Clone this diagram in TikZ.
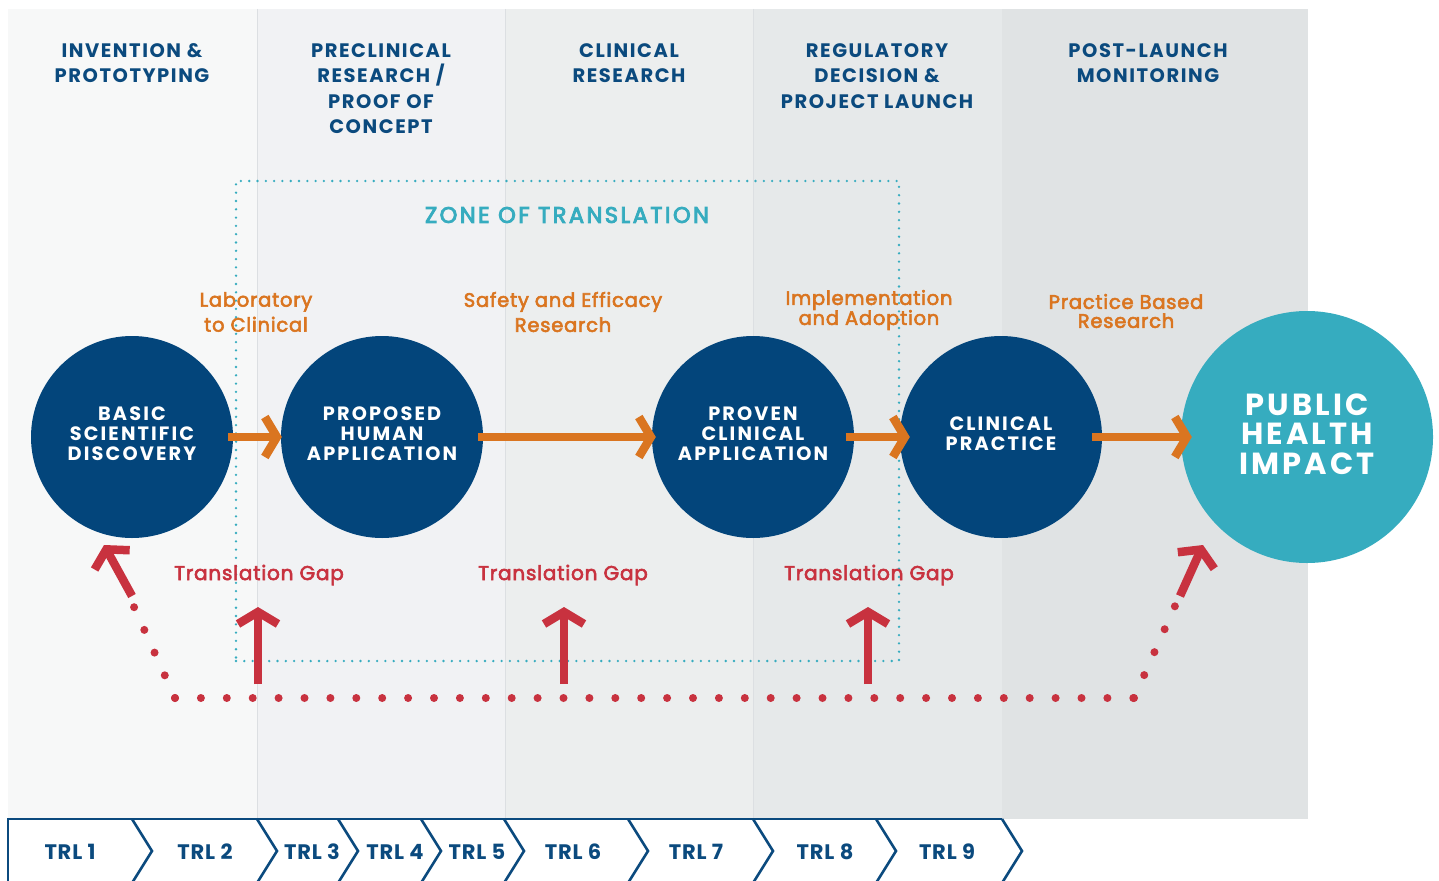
\documentclass[tikz,border=0pt]{standalone}
\usepackage{fontspec}
\setmainfont{Poppins}
\newfontfamily\hdfont[LetterSpace=8]{Poppins}
\newfontfamily\circfont[LetterSpace=11]{Poppins}
\newfontfamily\bigfont[LetterSpace=10]{Poppins}
\newfontfamily\labfont[LetterSpace=4,FakeBold=3]{Poppins}
\newfontfamily\zonefont[LetterSpace=11,FakeBold=4]{Poppins}
\newfontfamily\trlfont[LetterSpace=4]{Poppins}
\usetikzlibrary{arrows.meta}
\definecolor{navy}{HTML}{03457B}
\definecolor{headblue}{HTML}{0B4A7E}
\definecolor{tealc}{HTML}{36ACBF}
\definecolor{orng}{HTML}{DA7520}
\definecolor{gapred}{HTML}{C8323F}
\definecolor{colA}{HTML}{F7F8F8}
\definecolor{colB}{HTML}{F1F2F4}
\definecolor{colC}{HTML}{ECEEEE}
\definecolor{colD}{HTML}{E6E9EA}
\definecolor{colE}{HTML}{E0E3E4}
\definecolor{sepc}{HTML}{DCDFE2}
\tikzset{
  header/.style={text=headblue, font=\hdfont\bfseries\fontsize{19.5}{25.5}\selectfont, align=center, anchor=north},
  stage/.style={circle, fill=navy, minimum size=202pt, inner sep=0pt},
  stagetext/.style={text=white, align=center, inner sep=0pt, yshift=3pt,
     font=\circfont\bfseries\fontsize{19.3}{20}\selectfont},
  impact/.style={circle, fill=tealc, minimum size=252pt, inner sep=0pt},
  impacttext/.style={text=white, align=center, inner sep=0pt, yshift=3pt,
     font=\bigfont\bfseries\fontsize{30.5}{29.5}\selectfont},
  flow/.style={draw=orng, line width=8.5pt, -{Straight Barb[length=12pt,width=40pt]}},
  flowlabel/.style={text=orng, font=\labfont\fontsize{19.5}{25}\selectfont, align=center},
  gaparrow/.style={draw=gapred, line width=8.5pt, -{Straight Barb[length=12pt,width=40pt]}},
  gaplabel/.style={text=gapred, font=\labfont\fontsize{20}{22}\selectfont},
  reddots/.style={draw=gapred, line width=8pt, line cap=round},
  zonebox/.style={draw=tealc, line width=2.6pt, line cap=round, dash pattern=on 0pt off 8.3pt},
  trlline/.style={draw=headblue, line width=2.6pt},
  trl/.style={text=headblue, font=\trlfont\bfseries\fontsize{21}{22}\selectfont},
}
\begin{document}
\begin{tikzpicture}[x=1pt,y=-1pt]
\useasboundingbox (0,0) rectangle (1439,880);
% background columns
\fill[colA] (8,9) rectangle (257,819);
\fill[colB] (257,9) rectangle (505,819);
\fill[colC] (505,9) rectangle (753,819);
\fill[colD] (753,9) rectangle (1002,819);
\fill[colE] (1002,9) rectangle (1308,819);
\foreach \sx in {257,505,753}{\draw[sepc, line width=1pt] (\sx,9) -- (\sx,819);}
% headers
\node[header] (h1) at (132,40) {INVENTION \&\\PROTOTYPING};
\node[header] (h2) at (381,40) {PRECLINICAL\\RESEARCH /\\PROOF OF\\CONCEPT};
\node[header] (h3) at (629,40) {CLINICAL\\RESEARCH};
\node[header] (h4) at (877,40) {REGULATORY\\DECISION \&\\PROJECT LAUNCH};
\node[header] (h5) at (1148,40) {POST-LAUNCH\\MONITORING};
% flow labels
\node[flowlabel] (l1) at (256,312) {Laboratory\\to Clinical};
\node[flowlabel] (l2) at (563,312) {Safety and Efficacy\\Research};
\node[flowlabel, font=\labfont\fontsize{19.5}{20}\selectfont] (l3) at (869,310) {Implementation\\and Adoption};
\node[flowlabel, font=\labfont\fontsize{19.5}{19}\selectfont] (l4) at (1126,311) {Practice Based\\Research};
% zone of translation
\node[zonebox, minimum width=663pt, minimum height=480pt, inner sep=0pt] (zone) at (567.5,421) {};
\node[text=tealc, font=\zonefont\fontsize{22.5}{25}\selectfont] (zonelabel) at (567,215) {ZONE OF TRANSLATION};
% stages
\node[stage] (basic) at (132,437) {};
\node[stage] (proposed) at (382,437) {};
\node[stage] (proven) at (753,437) {};
\node[stage] (practice) at (1001,437) {};
\node[impact] (impactc) at (1307,437) {};
\node[stagetext] (basict) at (basic.center) {BASIC\\SCIENTIFIC\\DISCOVERY};
\node[stagetext] (proposedt) at (proposed.center) {PROPOSED\\HUMAN\\APPLICATION};
\node[stagetext] (provent) at (proven.center) {PROVEN\\CLINICAL\\APPLICATION};
\node[stagetext] (practicet) at (practice.center) {CLINICAL\\PRACTICE};
\node[impacttext] (impactt) at (impactc.center) {PUBLIC\\HEALTH\\IMPACT};
% flow arrows
\draw[flow, shorten <=-5pt, shorten >=-1pt] (basic) -- (proposed);
\draw[flow, shorten <=-5pt, shorten >=-4pt] (proposed) -- (proven);
\draw[flow, shorten <=-8pt, shorten >=-10pt] (proven) -- (practice);
\draw[flow, shorten <=-10pt, shorten >=-11pt] (practice) -- (impactc);
% translation gaps
\node[gaplabel] (g1) at (259,575) {Translation Gap};
\node[gaplabel] (g2) at (563,575) {Translation Gap};
\node[gaplabel] (g3) at (869,575) {Translation Gap};
\coordinate (g1s) at (258,684);
\coordinate (g2s) at (564,684);
\coordinate (g3s) at (868,684);
\draw[gaparrow] (g1s) -- (258,607);
\draw[gaparrow] (g2s) -- (564,607);
\draw[gaparrow] (g3s) -- (868,607);
% dotted return path
\coordinate (cL) at (175,698);
\coordinate (cR) at (1134,698);
\coordinate (dL) at (134,607);
\coordinate (dR) at (1175,606);
\draw[reddots, dash pattern=on 0pt off 25.9pt] (cL) -- (cR);
\draw[reddots, dash pattern=on 0pt off 24.9pt] (cL) -- (dL);
\draw[reddots, dash pattern=on 0pt off 25.1pt] (cR) -- (dR);
\coordinate (aLs) at (132,596);
\coordinate (aLt) at (104,545);
\coordinate (aRs) at (1180,596);
\coordinate (aRt) at (1203,545);
\draw[gaparrow] (aLs) -- (aLt);
\draw[gaparrow] (aRs) -- (aRt);
% TRL bar
\draw[trlline] (1002,819) -- (8,819) -- (8,885);
\foreach \tx in {152,277,358,441,524,648,773,896,1022}{
  \draw[trlline] (\tx-20,819) -- (\tx,851) -- (\tx-20,883);
}
\node[trl] (t1) at (70,852) {TRL 1};
\node[trl] (t2) at (205,852) {TRL 2};
\node[trl] (t3) at (312,852) {TRL 3};
\node[trl] (t4) at (395,852) {TRL 4};
\node[trl] (t5) at (477,852) {TRL 5};
\node[trl] (t6) at (573,852) {TRL 6};
\node[trl] (t7) at (696,852) {TRL 7};
\node[trl] (t8) at (825,852) {TRL 8};
\node[trl] (t9) at (947,852) {TRL 9};
\end{tikzpicture}
\end{document}
